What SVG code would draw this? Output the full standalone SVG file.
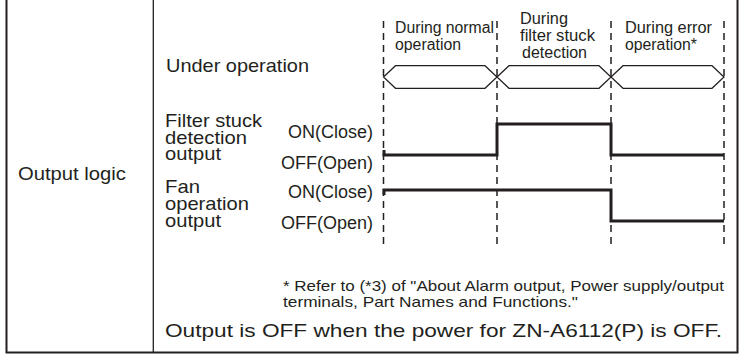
<svg xmlns="http://www.w3.org/2000/svg" width="747" height="361" viewBox="0 0 747 361">
<style>
text{font-family:"Liberation Sans",Arial,Helvetica,sans-serif;fill:#231f20}
.lbl{font-size:19px}
.st{font-size:18px}
.hd{font-size:16px}
.fn{font-size:14.5px}
.frm{fill:none;stroke:#231f20}
.dash{stroke:#231f20;stroke-width:1.5;stroke-dasharray:7 5;fill:none}
.hex{fill:none;stroke:#231f20;stroke-width:1.2}
.sig{fill:none;stroke:#231f20;stroke-width:3;stroke-linejoin:miter}
</style>
<rect width="747" height="361" fill="#fff"/>
<g id="frame">
<path class="frm" stroke-width="2" d="M6.5,0 V352.5 H737.5 V0"/>
<line class="frm" stroke-width="1.3" x1="153.3" y1="0" x2="153.3" y2="352"/>
</g>
<g id="row-label">
<text class="lbl" x="18" y="180" textLength="108" lengthAdjust="spacingAndGlyphs">Output logic</text>
</g>
<g id="headers">
<text class="hd" x="395" y="33" textLength="99" lengthAdjust="spacingAndGlyphs">During normal</text>
<text class="hd" x="395" y="50" textLength="66" lengthAdjust="spacingAndGlyphs">operation</text>
<text class="hd" x="520" y="24" textLength="48" lengthAdjust="spacingAndGlyphs">During</text>
<text class="hd" x="520" y="41" textLength="75" lengthAdjust="spacingAndGlyphs">filter stuck</text>
<text class="hd" x="522" y="58" textLength="65" lengthAdjust="spacingAndGlyphs">detection</text>
<text class="hd" x="625" y="33" textLength="87" lengthAdjust="spacingAndGlyphs">During error</text>
<text class="hd" x="625" y="50" textLength="72" lengthAdjust="spacingAndGlyphs">operation*</text>
</g>
<g id="under-operation">
<text class="lbl" x="166" y="72" textLength="143" lengthAdjust="spacingAndGlyphs">Under operation</text>
<polygon class="hex" points="383.5,77 395.5,65.7 485,65.7 497,77 485,88.3 395.5,88.3"/>
<polygon class="hex" points="497,77 509,65.7 599,65.7 611,77 599,88.3 509,88.3"/>
<polygon class="hex" points="611,77 623,65.7 712,65.7 724,77 712,88.3 623,88.3"/>
</g>
<g id="filter-output">
<text class="lbl" x="165" y="127" textLength="97" lengthAdjust="spacingAndGlyphs">Filter stuck</text>
<text class="lbl" x="165" y="143.5" textLength="82" lengthAdjust="spacingAndGlyphs">detection</text>
<text class="lbl" x="165" y="160" textLength="56" lengthAdjust="spacingAndGlyphs">output</text>
<text class="st" x="373" y="137.5" text-anchor="end">ON(Close)</text>
<text class="st" x="373" y="169" text-anchor="end">OFF(Open)</text>
</g>
<g id="fan-output">
<text class="lbl" x="165" y="193" textLength="35" lengthAdjust="spacingAndGlyphs">Fan</text>
<text class="lbl" x="165" y="210" textLength="84" lengthAdjust="spacingAndGlyphs">operation</text>
<text class="lbl" x="165" y="227" textLength="56" lengthAdjust="spacingAndGlyphs">output</text>
<text class="st" x="373" y="197.5" text-anchor="end">ON(Close)</text>
<text class="st" x="373" y="229" text-anchor="end">OFF(Open)</text>
</g>
<g id="connectors">
<line class="dash" x1="383.5" y1="21" x2="383.5" y2="247"/>
<line class="dash" x1="497" y1="21" x2="497" y2="247"/>
<line class="dash" x1="611" y1="21" x2="611" y2="247"/>
<line class="dash" x1="724" y1="21" x2="724" y2="247"/>
<path class="sig" d="M384,150 V155 H497 V124 H611 V155 H724"/>
<path class="sig" d="M384,195 V190 H611 V221 H724" stroke-width="2.6"/>
</g>
<g id="notes">
<text class="fn" x="283" y="291" textLength="441" lengthAdjust="spacingAndGlyphs">* Refer to (*3) of "About Alarm output, Power supply/output</text>
<text class="fn" x="283" y="307" textLength="295" lengthAdjust="spacingAndGlyphs">terminals, Part Names and Functions."</text>
<text class="lbl" x="165" y="337" textLength="557" lengthAdjust="spacingAndGlyphs">Output is OFF when the power for ZN-A6112(P) is OFF.</text>
</g>
</svg>
